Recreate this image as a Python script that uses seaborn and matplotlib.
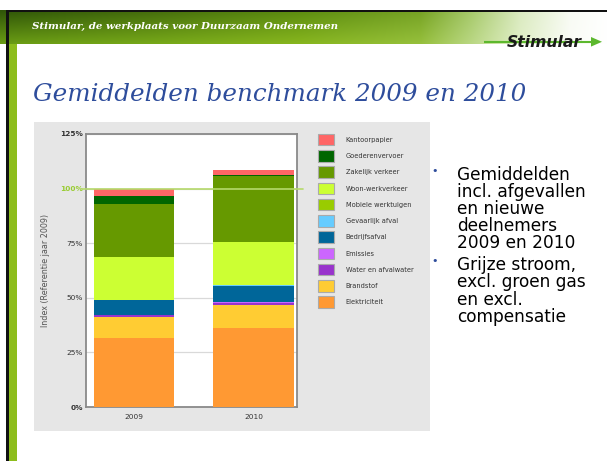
import numpy as np
import pandas as pd
import matplotlib
matplotlib.use("Agg")
import matplotlib.pyplot as plt
import seaborn as sns
from matplotlib.patches import Rectangle, FancyBboxPatch, Patch, Polygon

# ---------------- data ----------------
years = ["2009", "2010"]
categories = ["Elektriciteit", "Brandstof", "Water en afvalwater", "Emissies",
              "Bedrijfsafval", "Gevaarlijk afval", "Mobiele werktuigen",
              "Woon-werkverkeer", "Zakelijk verkeer", "Goederenvervoer",
              "Kantoorpapier"]
values_2009 = [31.4, 9.9, 0.8, 0.1, 6.6, 0.3, 0.1, 19.7, 24.2, 3.3, 3.6]
values_2010 = [36.0, 10.7, 1.1, 0.1, 7.5, 0.3, 0.1, 19.7, 30.4, 0.1, 2.5]
colors = ["#ff9933", "#ffcc33", "#9933cc", "#cc66ff", "#006699", "#66ccff",
          "#99cc00", "#ccff33", "#669900", "#006600", "#ff6666"]
y_ticks = [0, 25, 50, 75, 100, 125]
y_tick_labels = ["0%", "25%", "50%", "75%", "100%", "125%"]
reference_level = 100
title = "Gemiddelden benchmark 2009 en 2010"
header = "Stimular, de werkplaats voor Duurzaam Ondernemen"
bullet_1 = ["Gemiddelden", "incl. afgevallen", "en nieuwe", "deelnemers", "2009 en 2010"]
bullet_2 = ["Grijze stroom,", "excl. groen gas", "en excl.", "compensatie"]

rows = []
for yr, vals in zip(years, [values_2009, values_2010]):
    for cat, v in zip(categories, vals):
        rows.append({"year": yr, "category": cat, "value": v})
df = pd.DataFrame(rows)
df["cum"] = df.groupby("year")["value"].cumsum()

# ---------------- figure ----------------
sns.set_style("white")
plt.rcParams["font.family"] = ["DejaVu Sans"]
W, H = 607, 461
fig = plt.figure(figsize=(W / 100, H / 100), dpi=100)
renderer = fig.canvas.get_renderer()

bg = fig.add_axes([0, 0, 1, 1], zorder=0)
bg.set_xlim(0, W)
bg.set_ylim(H, 0)
bg.axis("off")

# header gradient
xs = np.arange(W)
def ramp(stops, cols):
    cols = np.array(cols) / 255.0
    return np.stack([np.interp(xs, stops, cols[:, i]) for i in range(3)], axis=1)
stops = [0, 150, 300, 420, 470, 520, 570, 607]
top_row = ramp(stops, [(47, 85, 8), (68, 108, 12), (92, 140, 16), (118, 162, 36),
                        (165, 200, 105), (218, 234, 192), (248, 251, 244), (255, 255, 255)])
bot_row = ramp(stops, [(105, 155, 20), (118, 168, 25), (135, 182, 30), (150, 192, 60),
                        (185, 215, 130), (225, 239, 200), (250, 252, 246), (255, 255, 255)])
tt = np.linspace(0, 1, 34)[:, None, None]
grad = top_row[None, :, :] * (1 - tt) + bot_row[None, :, :] * tt
bg.imshow(grad, extent=(0, W, 44, 10), aspect="auto", zorder=1, interpolation="bilinear")
bg.add_patch(Rectangle((8, 44), 9, H, facecolor="#8dbd1c", edgecolor="none", zorder=1))
bg.add_patch(FancyBboxPatch((17, 44), 700, 500, boxstyle="round,pad=0,rounding_size=6",
                            facecolor="white", edgecolor="none", zorder=2))
bg.add_patch(Rectangle((6, 10), W, 2.2, facecolor="#111111", edgecolor="none", zorder=3))
bg.add_patch(Rectangle((6, 10), 2.6, H, facecolor="#111111", edgecolor="none", zorder=3))
# logo line + arrow
bg.plot([484, 593], [41.8, 41.8], color="#5cb82e", lw=1.5, zorder=3, solid_capstyle="butt")
bg.add_patch(Polygon([[591, 37], [602, 41.8], [591, 46.6]], closed=True,
                     facecolor="#5cb82e", edgecolor="none", zorder=3))
# chart panel
bg.add_patch(Rectangle((34, 122), 396, 309, facecolor="#e6e6e6", edgecolor="none", zorder=2))


def fit_text(x, y, s, target_w, size, **kw):
    t = fig.text(x / W, 1 - y / H, s, fontsize=size, **kw)
    w = t.get_window_extent(renderer).width
    t.set_fontsize(size * target_w / w)
    return t

fit_text(32, 29, header, 309, 8, color="white", family="DejaVu Serif",
         style="italic", weight="bold", va="baseline", zorder=5)
fit_text(33, 101, title, 494, 18, color="#2e4d9c", family="DejaVu Serif",
         style="italic", va="baseline", zorder=5)
fit_text(507, 47, "Stimular", 75, 11, color="#1a1a1a", family="DejaVu Sans",
         style="italic", weight="heavy", va="baseline", zorder=6)

# bullets
probe = fig.text(0, 0, bullet_2[1], fontsize=14)
fs = 14 * 130 / probe.get_window_extent(renderer).width
probe.remove()
for i, line in enumerate(bullet_1):
    fig.text(456.7 / W, 1 - (180 + 17.0 * i) / H, line, fontsize=fs, color="black", va="baseline")
for i, line in enumerate(bullet_2):
    fig.text(456.7 / W, 1 - (270 + 17.4 * i) / H, line, fontsize=fs, color="black", va="baseline")
for yb in (171, 261):
    fig.text(435 / W, 1 - yb / H, "\u2022", fontsize=8, color="#2e4d9c", ha="center", va="center")

# ---------------- chart ----------------
ax = fig.add_axes([86 / W, 54 / H, 211 / W, 273 / H], zorder=4)
ax.set_facecolor("white")
for cat, col in reversed(list(zip(categories, colors))):
    sub = df[df["category"] == cat]
    sns.barplot(data=sub, x="year", y="cum", order=years, color=col, saturation=1,
                width=0.67, errorbar=None, linewidth=0, ax=ax, zorder=3)
ax.set_xlim(-0.402, 1.364)
ax.set_ylim(0, 125)
ax.set_xlabel("")
ax.set_yticks(y_ticks, y_tick_labels)
ax.tick_params(axis="both", length=0, labelsize=5.3, colors="#333333")
ax.tick_params(axis="y", pad=2.2)
ax.tick_params(axis="x", pad=5.0)
for lbl in ax.get_yticklabels():
    if lbl.get_text() in ("0%", "125%"):
        lbl.set_fontweight("bold")
    if lbl.get_text() == "100%":
        lbl.set_fontweight("bold")
        lbl.set_color("#99cc33")
ax.yaxis.grid(True, color="#d9d9d9", lw=0.9)
ax.set_axisbelow(True)
ax.axhline(reference_level, xmin=-0.02, xmax=1.03, color="#b5d96b", lw=1.2,
           clip_on=False, zorder=5)
for sp in ax.spines.values():
    sp.set_color("#8a8a8a")
    sp.set_linewidth(1.3)
    sp.set_visible(True)
ax.set_ylabel("Index (Referentie jaar 2009)", fontsize=5.8, color="#555555")
ax.yaxis.set_label_coords(-0.17, 0.5)

handles = [Patch(facecolor=c, edgecolor="#aaaaaa", linewidth=0.8, label=cat)
           for cat, c in reversed(list(zip(categories, colors)))]
fig.legend(handles=handles, loc="upper left", bbox_to_anchor=(318 / W, 1 - 134 / H),
           bbox_transform=fig.transFigure, frameon=False, fontsize=4.8,
           handlelength=2.4, handleheight=2.25, labelspacing=0.73,
           handletextpad=1.75, borderpad=0, borderaxespad=0, labelcolor="#333333")

fig.savefig("out.png", dpi=100)
